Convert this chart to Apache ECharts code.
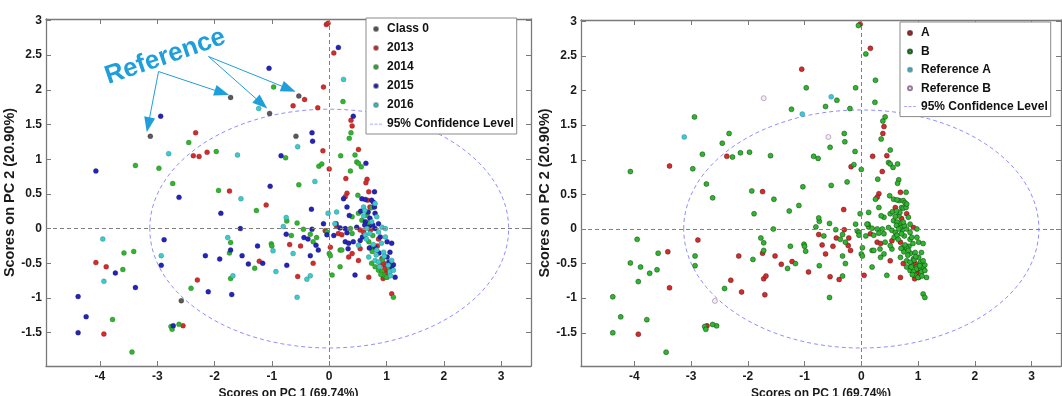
<!DOCTYPE html>
<html><head><meta charset="utf-8">
<script src="https://cdn.jsdelivr.net/npm/echarts@6/dist/echarts.min.js"></script>
<style>html,body{margin:0;padding:0;background:#fff}#c{width:1062px;height:396px}</style>
</head><body><div id="c"></div>
<script>
// ---- axes / labels ----
const xTicks = [-4, -3, -2, -1, 0, 1, 2, 3];
const yTicks = [-1.5, -1, -0.5, 0, 0.5, 1, 1.5, 2, 2.5, 3];
const xRange = [-4.94, 3.52];
const yRange = [-1.98, 3.02];
const xName = 'Scores on PC 1 (69.74%)';
const yName = 'Scores on PC 2 (20.90%)';
const leftLegend = ['Class 0', '2013', '2014', '2015', '2016', '95% Confidence Level'];
const rightLegend = ['A', 'B', 'Reference A', 'Reference B', '95% Confidence Level'];
// 95% confidence ellipse: centre x, centre y, semi-axis x, semi-axis y
const ellipse = [0, 0, 3.13, 1.72];
// annotation
const refLabel = 'Reference';
const refLabelAt = [-2.86, 2.475];
const refArrows = [
  [[-2.977, 2.263], [-3.157, 1.496]],
  [[-2.977, 2.263], [-1.871, 1.958]],
  [[-2.105, 2.479], [-1.179, 1.801]],
  [[-2.105, 2.479], [-0.706, 2.012]]
];

// ---- scores: [PC1, PC2, group in right plot] ----
const class0Pts = [
  [-3.12,1.33,'RA'],[-1.72,1.89,'RB'],[-1.04,1.66,'RA'],[-0.53,1.91,'RA'],[-0.58,1.33,'RB'],[-2.58,-1.04,'RB']
];
const y2013Pts = [
  [-0.05,2.94,'B'],[-0.02,2.96,'A'],[0.08,2.53,'B'],[-0.10,2.04,'B'],[-0.43,1.86,'B'],[-0.63,1.77,'B'],[-0.20,1.74,'B'],
  [-2.33,1.38,'B'],[-2.37,1.05,'A'],[-2.27,1.04,'B'],[-2.13,1.10,'B'],[-0.11,1.12,'B'],[0.00,0.86,'B'],[-1.74,0.54,'A'],[-1.10,0.34,'B'],
  [-4.07,-0.49,'B'],[-3.89,-0.55,'B'],[-3.93,-1.52,'A'],[-2.55,-1.40,'B'],[-2.30,-0.74,'A'],[-1.22,-0.47,'A'],[-0.69,-0.23,'A'],
  [-0.50,-0.25,'A'],[-0.55,-0.69,'A'],[-0.28,-0.50,'B'],[0.02,-0.27,'B'],[-0.07,-0.03,'B'],
  [0.38,1.56,'B'],[0.40,1.48,'A'],[0.51,1.14,'B'],[0.29,0.72,'B'],[0.66,0.71,'B'],[0.64,0.66,'B'],[0.31,0.51,'A'],[0.28,0.46,'A'],
  [0.69,0.53,'A'],[0.67,0.41,'B'],[0.71,0.31,'B'],[0.13,0.03,'B'],[0.54,-0.02,'B'],[0.16,-0.07,'A'],[0.22,-0.09,'B'],[0.60,-0.05,'B'],
  [0.40,-0.36,'B'],[0.54,-0.29,'B'],[0.34,-0.41,'B'],[0.51,-0.46,'A'],[0.92,-0.43,'B'],[0.89,-0.53,'B'],[0.95,-0.50,'A'],[0.98,-0.55,'B'],
  [1.01,-0.60,'A'],[0.98,-0.65,'A'],[0.69,-0.70,'A'],[1.09,-0.94,'B'],[0.72,-0.02,'B'],[0.84,-0.25,'B'],[0.97,-0.58,'B'],[0.94,-0.72,'A'],[0.86,-0.15,'B']
];
const y2014Pts = [
  [-0.97,2.04,'B'],[0.24,1.83,'B'],[-2.45,1.24,'B'],[-3.38,0.91,'A'],[-2.97,0.87,'B'],[-2.73,0.65,'B'],[-3.58,-0.35,'B'],[-3.41,-0.33,'A'],
  [-3.60,-0.59,'B'],[-2.41,-0.86,'B'],[-3.78,-1.31,'B'],[-2.76,-1.41,'B'],[-2.74,-1.45,'B'],[-2.62,-1.38,'B'],[-3.44,-1.78,'B'],
  [-1.97,1.11,'B'],[-0.76,1.02,'B'],[-0.18,0.90,'A'],[-0.13,0.93,'B'],[-0.53,0.63,'B'],[-1.93,0.55,'B'],[-1.27,0.26,'B'],[-0.74,0.11,'B'],
  [-0.56,0.08,'B'],[-1.72,-0.20,'B'],[-1.74,-0.35,'A'],[-1.30,-0.57,'B'],[-1.01,-0.22,'B'],[-1.00,-0.25,'B'],[-0.66,-0.10,'B'],
  [-0.45,-0.01,'B'],[-0.33,-0.08,'B'],[-0.22,-0.13,'A'],[-0.28,-0.19,'B'],[-1.72,-0.72,'A'],
  [0.38,1.38,'A'],[0.35,1.30,'B'],[0.20,1.05,'A'],[0.45,1.06,'A'],[0.48,0.96,'B'],[0.51,0.94,'B'],[0.56,0.89,'B'],[0.37,0.83,'A'],
  [0.50,0.48,'B'],[0.40,0.17,'B'],[0.51,0.22,'B'],[0.66,0.19,'B'],[0.57,0.12,'B'],[0.37,0.00,'B'],[-0.04,-0.05,'B'],[0.40,-0.07,'B'],
  [0.69,-0.19,'A'],[0.19,-0.31,'B'],[0.73,-0.27,'B'],[0.00,-0.36,'B'],[0.02,-0.39,'B'],[0.74,-0.50,'A'],[0.80,-0.55,'B'],[0.86,-0.60,'B'],
  [0.92,-0.62,'B'],[0.95,-0.67,'B'],[1.01,-0.70,'B'],[0.19,-0.55,'B'],[0.05,-0.67,'A'],[1.12,-0.99,'B'],
  [0.76,-0.10,'B'],[0.75,-0.33,'B'],[0.74,0.30,'B'],[0.93,-0.45,'B'],[1.00,-0.70,'B'],[0.90,-0.66,'B'],[1.05,-0.57,'B'],[0.68,0.08,'B'],[0.22,-0.31,'B']
];
const y2015Pts = [
  [0.16,2.61,'A'],[-1.05,2.31,'A'],[-2.94,1.62,'B'],[-4.07,0.83,'B'],[-2.62,0.45,'B'],[-2.88,-0.16,'A'],[-3.73,-0.64,'B'],[-2.93,-0.53,'B'],
  [-3.38,-0.85,'A'],[-4.38,-0.98,'B'],[-4.24,-1.27,'B'],[-4.38,-1.50,'B'],[-2.72,-1.40,'A'],
  [-0.30,1.38,'B'],[-0.29,1.26,'B'],[-0.84,1.05,'B'],[-1.03,0.61,'B'],[-1.89,0.22,'B'],[-0.31,0.28,'A'],[-1.55,0.00,'B'],[-1.72,-0.31,'B'],
  [-2.16,-0.39,'A'],[-1.91,-0.44,'B'],[-1.52,-0.39,'A'],[-1.41,-0.51,'A'],[-1.16,-0.50,'B'],[-1.25,-0.25,'B'],[-0.75,-0.08,'A'],
  [-0.74,-0.53,'B'],[-0.33,-0.39,'B'],[-0.44,-0.13,'A'],[-0.37,-0.15,'B'],[-0.30,-0.01,'A'],[-0.23,-0.24,'A'],[-0.19,-0.31,'A'],
  [-0.10,0.07,'B'],[-2.11,-0.91,'A'],[-1.70,-0.95,'A'],
  [0.42,1.62,'B'],[0.64,0.94,'B'],[0.25,0.43,'B'],[0.79,0.53,'B'],[0.57,0.43,'B'],[0.63,0.42,'B'],[0.74,0.41,'B'],[0.77,0.38,'B'],
  [0.79,0.31,'B'],[0.31,0.31,'B'],[0.35,0.19,'B'],[0.80,0.22,'A'],[0.71,0.15,'A'],[0.63,0.10,'B'],[0.86,0.07,'B'],[0.19,0.01,'B'],
  [0.28,0.00,'B'],[0.48,0.02,'B'],[0.69,0.02,'B'],[0.80,0.00,'B'],[-0.04,-0.09,'B'],[0.31,-0.06,'B'],[0.89,-0.12,'B'],[0.28,-0.19,'A'],
  [0.34,-0.21,'A'],[0.42,-0.19,'B'],[0.54,-0.17,'A'],[0.80,-0.27,'B'],[1.01,-0.19,'B'],[1.09,-0.21,'B'],[0.33,-0.29,'B'],[1.06,-0.34,'B'],
  [1.01,-0.41,'B'],[1.09,-0.55,'B'],[1.15,-0.70,'B'],[0.45,-0.67,'B'],[0.12,0.07,'B'],[0.08,-0.10,'B'],
  [0.62,0.05,'B'],[0.58,-0.12,'B'],[0.70,-0.28,'B'],[0.87,-0.35,'B'],[0.68,0.24,'B'],[0.55,0.25,'B'],[1.04,-0.48,'B'],[1.12,-0.52,'B'],[0.76,0.05,'B']
];
const y2016Pts = [
  [0.25,2.15,'B'],[-1.23,1.73,'B'],[-2.80,1.08,'B'],[-3.95,-0.15,'B'],[-2.93,-0.39,'B'],[-3.93,-0.76,'B'],[-1.60,1.06,'B'],[-0.55,1.18,'B'],
  [-0.25,0.68,'B'],[-1.54,0.43,'B'],[-0.75,0.16,'B'],[-0.80,0.03,'B'],[-1.77,-0.13,'B'],[-0.98,-0.32,'B'],[-0.93,-0.62,'A'],[-0.63,-0.36,'A'],
  [-0.56,-0.99,'B'],[-0.39,-0.73,'A'],[-0.33,-0.68,'B'],[-1.68,-0.68,'A'],
  [0.80,0.36,'B'],[0.60,0.31,'A'],[0.62,0.26,'B'],[0.13,0.24,'B'],[-0.02,0.22,'B'],[0.83,0.17,'B'],[0.74,0.10,'B'],[0.92,0.02,'A'],
  [0.98,0.00,'B'],[0.10,0.07,'B'],[0.63,-0.09,'B'],[0.71,-0.07,'B'],[0.86,-0.05,'B'],[0.98,-0.12,'B'],[0.51,-0.24,'B'],[0.77,-0.23,'B'],
  [0.91,-0.21,'B'],[0.83,-0.31,'B'],[0.95,-0.34,'B'],[0.69,-0.41,'B'],[0.80,-0.46,'B'],[0.86,-0.48,'B'],[1.09,-0.46,'B'],[1.03,-0.53,'B'],
  [1.06,-0.62,'B'],[1.12,-0.60,'B'],[0.66,0.00,'B'],[0.65,-0.15,'B'],[0.82,-0.38,'B'],[0.60,0.18,'B'],[0.88,-0.55,'B'],[1.07,-0.68,'B'],[0.96,-0.40,'B']
];

// ---- build ----
const FONT = '"Liberation Sans", Arial, Helvetica, sans-serif';
const FRAME = '#7a7a7a';
const allPts = [].concat(class0Pts, y2013Pts, y2014Pts, y2015Pts, y2016Pts);
const xy = arr => arr.map(p => [p[0], p[1]]);
const byGroup = g => allPts.filter(p => p[2] === g).map(p => [p[0], p[1]]);

function xAx(gi, pos) {
  const main = pos === 'bottom';
  return {
    type: 'value', gridIndex: gi, position: pos, min: xRange[0], max: xRange[1],
    axisLine: { show: true, onZero: false, lineStyle: { color: FRAME, width: 1.3 } },
    axisTick: { show: true, inside: true, length: 5, customValues: xTicks, lineStyle: { color: FRAME } },
    axisLabel: { show: main, customValues: xTicks, color: '#1a1a1a', fontSize: 12, fontWeight: 'bold', fontFamily: FONT, margin: 5 },
    splitLine: { show: false },
    name: main ? xName : '', nameLocation: 'middle', nameGap: 19,
    nameTextStyle: { color: '#1a1a1a', fontSize: 12, fontWeight: 'bold', fontFamily: FONT }
  };
}
function yAx(gi, pos) {
  const main = pos === 'left';
  return {
    type: 'value', gridIndex: gi, position: pos, min: yRange[0], max: yRange[1],
    axisLine: { show: true, onZero: false, lineStyle: { color: FRAME, width: 1.3 } },
    axisTick: { show: true, inside: true, length: 5, customValues: yTicks, lineStyle: { color: FRAME } },
    axisLabel: { show: main, customValues: yTicks, color: '#1a1a1a', fontSize: 12, fontWeight: 'bold', fontFamily: FONT, margin: 4 },
    splitLine: { show: false },
    name: main ? yName : '', nameLocation: 'middle', nameGap: 21,
    nameTextStyle: { color: '#1a1a1a', fontSize: 14.5, fontWeight: 'bold', fontFamily: FONT }
  };
}

const zeroLines = {
  silent: true, symbol: 'none', label: { show: false },
  lineStyle: { color: '#808080', type: [4, 3], width: 1 },
  data: [{ xAxis: 0 }, { yAxis: 0 }]
};
function ellipseSeries(xi, yi) {
  return {
    type: 'custom', name: '95% Confidence Level', xAxisIndex: xi, yAxisIndex: yi, z: 1,
    itemStyle: { color: '#8f8fff' },
    data: [ellipse], encode: { x: 0, y: 1 }, silent: true,
    renderItem: function (params, api) {
      const c = api.coord([api.value(0), api.value(1)]);
      const s = api.size([api.value(2), api.value(3)]);
      return { type: 'ellipse', shape: { cx: c[0], cy: c[1], rx: s[0], ry: s[1] },
        style: { fill: 'none', stroke: '#8f8fff', lineWidth: 1, lineDash: [4, 3] } };
    },
    markLine: zeroLines
  };
}
function dots(name, data, color, xi, yi, border, extra) {
  return Object.assign({
    type: 'scatter', name: name, data: data, xAxisIndex: xi, yAxisIndex: yi, symbolSize: 5, z: 3,
    itemStyle: { color: color, borderColor: border, borderWidth: 0.6, opacity: 1 }
  }, extra || {});
}

const ARROW = '#1e9fdb';
const annotation = {
  markLine: {
    silent: true, label: { show: false },
    lineStyle: { color: ARROW, width: 1, type: 'solid' },
    data: refArrows.map(a => [
      { coord: a[0], symbol: 'none' },
      { coord: a[1], symbol: 'triangle', symbolSize: [11, 15] }
    ])
  },
  markPoint: {
    silent: true,
    data: [{ coord: refLabelAt, symbol: 'circle', symbolSize: 0,
      label: { show: true, position: 'inside', formatter: refLabel, rotate: 19,
        color: ARROW, fontSize: 26, fontWeight: 'bold', fontFamily: FONT } }]
  }
};

const dashIcon = 'path://M0 0H4V1H0ZM6 0H10V1H6ZM12 0H16V1H12Z';
function legend(left, top, names, gap) {
  return {
    orient: 'vertical', left: left, top: top, itemWidth: 12, itemHeight: 4, itemGap: gap,
    padding: [5, 3, 4, 4], backgroundColor: '#fff', borderColor: '#8a8a8a', borderWidth: 1, borderRadius: 0,
    selectedMode: false,
    textStyle: { fontSize: 12, fontWeight: 'bold', color: '#111', fontFamily: FONT },
    data: names.map(n => n === '95% Confidence Level' ? { name: n, icon: dashIcon } : { name: n })
  };
}

const option = {
  animation: false,
  backgroundColor: '#fff',
  grid: [
    { left: 46, top: 19, width: 485, height: 347, outerBoundsMode: 'none', containLabel: false },
    { left: 581, top: 20, width: 480, height: 346, outerBoundsMode: 'none', containLabel: false }
  ],
  xAxis: [xAx(0, 'bottom'), xAx(0, 'top'), xAx(1, 'bottom'), xAx(1, 'top')],
  yAxis: [yAx(0, 'left'), yAx(0, 'right'), yAx(1, 'left'), yAx(1, 'right')],
  legend: [legend(366, 18, leftLegend, 7), legend(900, 22, rightLegend, 6.4)],
  series: [
    ellipseSeries(0, 0),
    dots('Class 0', xy(class0Pts), '#5a5a5a', 0, 0, 'rgba(40,40,40,0.5)', annotation),
    dots('2013', xy(y2013Pts), '#d42b2b', 0, 0, 'rgba(90,30,30,0.45)'),
    dots('2014', xy(y2014Pts), '#2fb52f', 0, 0, 'rgba(30,80,30,0.45)'),
    dots('2015', xy(y2015Pts), '#2424b8', 0, 0, 'rgba(20,20,80,0.45)'),
    dots('2016', xy(y2016Pts), '#3ccaca', 0, 0, 'rgba(40,90,90,0.45)'),
    ellipseSeries(2, 2),
    dots('A', byGroup('A'), '#d42b2b', 2, 2, 'rgba(60,20,20,0.7)'),
    dots('B', byGroup('B'), '#2fb52f', 2, 2, 'rgba(10,50,10,0.75)'),
    dots('Reference A', byGroup('RA'), '#3cc8d8', 2, 2, 'rgba(40,90,100,0.5)'),
    dots('Reference B', byGroup('RB'), '#f3eef6', 2, 2, '#9a7a9a')
  ]
};
const chart = echarts.init(document.getElementById('c'));
chart.setOption(option);
</script>
</body></html>
